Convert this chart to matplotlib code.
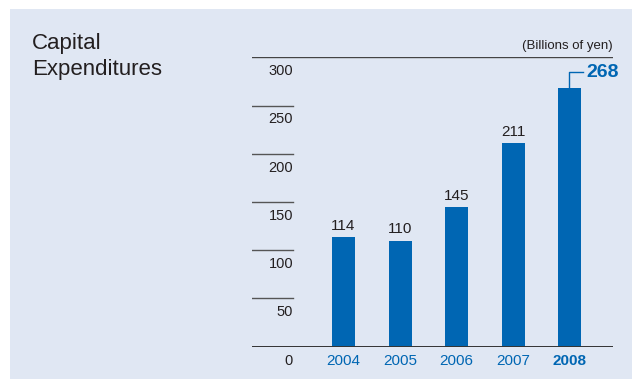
import matplotlib.pyplot as plt
from matplotlib.patches import Rectangle

years = ['2004', '2005', '2006', '2007', '2008']
capex = [114, 110, 145, 211, 268]
yticks = [0, 50, 100, 150, 200, 250, 300]

blue = '#0066b3'
bg = '#e0e7f3'
txt = '#231f20'
plt.rcParams['font.family'] = ['Liberation Sans Narrow', 'Liberation Sans', 'DejaVu Sans']

fig = plt.figure(figsize=(6.32, 3.79), dpi=100, facecolor='white')
fig.patches.append(Rectangle((10 / 632, 0), 1, 1 - 9 / 379, transform=fig.transFigure,
                             facecolor=bg, edgecolor='none', zorder=-5))

fig.text(32 / 632, 1 - 43 / 379, 'Capital', fontsize=16, color=txt, va='center',
         family=['Liberation Sans', 'DejaVu Sans'])
fig.text(32 / 632, 1 - 70 / 379, 'Expenditures', fontsize=16, color=txt, va='center',
         family=['Liberation Sans', 'DejaVu Sans'])

ax = fig.add_axes([252 / 632, 1 - 346.7 / 379, 361 / 632, (346.7 - 57.3) / 379])
ax.set_facecolor('none')
ax.set_axis_off()
ax.set_xlim(-1.62, 4.77)
ax.set_ylim(0, 300)

x = list(range(len(years)))
ax.bar(x, capex, width=0.407, color=blue, zorder=2)

# tick lines: short stubs, full line at top, dark baseline
for t in yticks:
    if t == 0:
        ax.axhline(t, xmin=0, xmax=1, color='#333333', lw=1.4, zorder=3)
    elif t == 300:
        ax.axhline(t, xmin=0, xmax=1, color='#444444', lw=1.0, zorder=3)
    else:
        ax.axhline(t, xmin=0, xmax=0.1136, color='#555555', lw=1.0, zorder=3)
    ax.annotate(str(t), xy=(0.1136, t), xycoords=('axes fraction', 'data'),
                xytext=(0, -10), textcoords='offset points',
                ha='right', va='center', fontsize=10.5, color=txt)

for i, (yr, v) in enumerate(zip(years, capex)):
    last = i == len(years) - 1
    ax.annotate(yr, xy=(i, 0), xytext=(0, -10), textcoords='offset points',
                ha='center', va='center', fontsize=11, color=blue,
                fontweight='bold' if last else 'normal')
    if not last:
        ax.annotate(str(v), xy=(i, v), xytext=(0, 8), textcoords='offset points',
                    ha='center', va='center', fontsize=11, color=txt)

# callout for the latest year
i = len(years) - 1
top = capex[i] + 16.5
ax.plot([i, i, i + 0.24], [capex[i], top, top], color=blue, lw=1.0, zorder=3)
ax.text(i + 0.3, top, str(capex[i]), ha='left', va='center', fontsize=14,
        color=blue, fontweight='bold')

fig.text(613 / 632, 1 - 46 / 379, '(Billions of yen)', ha='right', va='center',
         fontsize=9.5, color=txt)

plt.savefig('out.png', dpi=100, facecolor=fig.get_facecolor())
